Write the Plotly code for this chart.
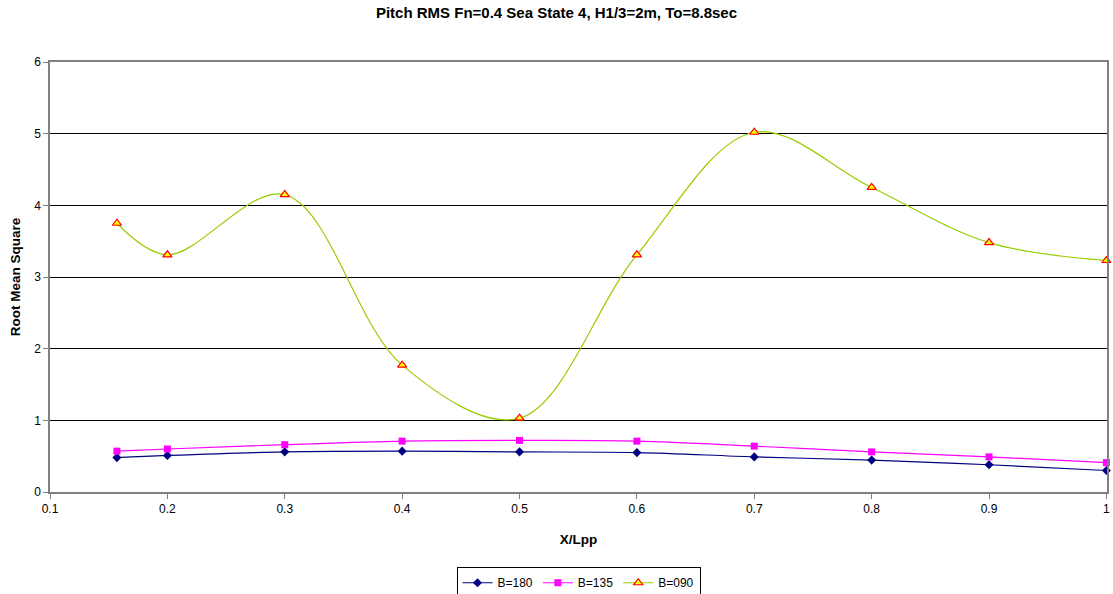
import plotly.graph_objects as go

x_lpp = [0.157, 0.2, 0.3, 0.4, 0.5, 0.6, 0.7, 0.8, 0.9, 1.0]
b180 = [0.48, 0.51, 0.56, 0.57, 0.56, 0.55, 0.49, 0.445, 0.38, 0.30]
b135 = [0.57, 0.60, 0.66, 0.71, 0.72, 0.71, 0.64, 0.56, 0.49, 0.41]
b090 = [3.75, 3.31, 4.15, 1.77, 1.03, 3.31, 5.02, 4.25, 3.48, 3.23]

x_ticks = [0.1, 0.2, 0.3, 0.4, 0.5, 0.6, 0.7, 0.8, 0.9, 1.0]
x_tick_labels = ["0.1", "0.2", "0.3", "0.4", "0.5", "0.6", "0.7", "0.8", "0.9", "1"]

FONT = "Liberation Sans, Arial, sans-serif"

fig = go.Figure()
fig.add_trace(go.Scatter(
    x=x_lpp, y=b180, name="B=180", mode="lines+markers", cliponaxis=False,
    line=dict(color="#000080", width=1.2, shape="spline", smoothing=1),
    marker=dict(symbol="diamond", size=7, color="#000080"),
))
fig.add_trace(go.Scatter(
    x=x_lpp, y=b135, name="B=135", mode="lines+markers", cliponaxis=False,
    line=dict(color="#FF00FF", width=1.2, shape="spline", smoothing=1),
    marker=dict(symbol="square", size=7, color="#FF00FF"),
))
fig.add_trace(go.Scatter(
    x=x_lpp, y=b090, name="B=090", mode="lines+markers", cliponaxis=False,
    line=dict(color="#99CC00", width=1.2, shape="spline", smoothing=1),
    marker=dict(symbol="triangle-up", size=8, color="#FFFF00",
                line=dict(color="#FF0000", width=1.2)),
))

fig.update_layout(
    width=1113, height=594,
    margin=dict(l=50, r=6, t=62, b=102, autoexpand=False),
    paper_bgcolor="white", plot_bgcolor="white",
    font=dict(family=FONT, size=12, color="black"),
    title=dict(text="<b>Pitch RMS Fn=0.4 Sea State 4, H1/3=2m, To=8.8sec</b>",
               x=0.5, xanchor="center", y=0.978, yanchor="middle",
               font=dict(family=FONT, size=15, color="black")),
    showlegend=True,
    legend=dict(orientation="h", x=0.5, xanchor="center", y=-0.175, yanchor="top",
                bordercolor="black", borderwidth=1, bgcolor="white",
                font=dict(family=FONT, size=12), itemwidth=30),
)
fig.update_xaxes(
    range=[0.1, 1.0005], tickvals=x_ticks, ticktext=x_tick_labels,
    showgrid=False, zeroline=False, automargin=False,
    showline=True, linecolor="#808080", linewidth=1.5, mirror=True,
    ticks="outside", ticklen=5, tickcolor="#808080",
    title=dict(text="<b>X/Lpp</b>", font=dict(family=FONT, size=13.5), standoff=19),
)
fig.update_yaxes(
    range=[0, 6], dtick=1, tick0=0,
    showgrid=True, gridcolor="black", gridwidth=1, zeroline=False, automargin=False,
    showline=True, linecolor="#808080", linewidth=1.5, mirror=True,
    ticks="outside", ticklen=5, tickcolor="#808080",
    title=dict(text="<b>Root Mean Square</b>", font=dict(family=FONT, size=13.5), standoff=10),
)

fig.write_html("out.html", config={"displayModeBar": False},
               post_script="document.body.style.margin='0';document.body.style.overflow='hidden';")
